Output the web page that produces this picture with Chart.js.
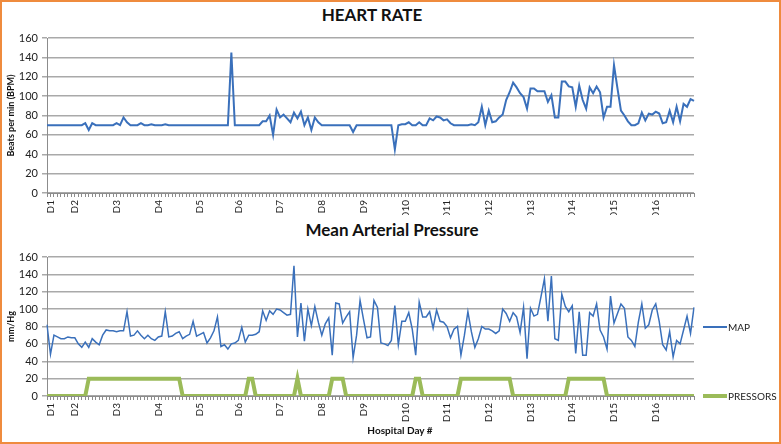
<!DOCTYPE html>
<html>
<head>
<meta charset="utf-8">
<script src="https://cdn.jsdelivr.net/npm/chart.js@4.4.1/dist/chart.umd.min.js"></script>
<style>
    body { margin: 0; background: #fff; }
    #page { position: relative; width: 781px; height: 444px; overflow: hidden; font-family: Lato, 'Open Sans', sans-serif; color: #111; }
    canvas { position: absolute; left: 0; }
    #hrChart { top: 0; }
    #mapChart { top: 215px; }
    .chart-title { position: absolute; width: 260px; text-align: center; font-weight: bold; font-size: 17px; line-height: 20px; }
    #hr-title { left: 242px; top: 5px; }
    #map-title { left: 262px; top: 220px; }
    #x-title { position: absolute; left: 330px; top: 423px; width: 140px; text-align: center; font-weight: bold; font-size: 10px; line-height: 14px; }
    .legend-line { position: absolute; left: 703px; width: 24px; }
    .legend-text { position: absolute; left: 728px; font-size: 10px; line-height: 12px; color: #222; }
    #frame { position: absolute; left: 0; top: 0; width: 781px; height: 444px; box-sizing: border-box; border: 2px solid #ef8b3e; pointer-events: none; }
</style>
</head>
<body>
<div id="page">
    <div class="chart-title" id="hr-title">HEART RATE</div>
    <canvas id="hrChart" width="781" height="215"></canvas>
    <div class="chart-title" id="map-title">Mean Arterial Pressure</div>
    <canvas id="mapChart" width="781" height="229"></canvas>
    <div class="legend-line" style="top:326px;height:1.5px;background:#3a70bb"></div>
    <div class="legend-text" style="top:321px">MAP</div>
    <div class="legend-line" style="top:394px;height:4px;background:#9bbb59"></div>
    <div class="legend-text" style="top:390px">PRESSORS</div>
    <div id="x-title">Hospital Day #</div>
    <div id="frame"></div>
</div>
<script>
// readings (one every ~2h), day marks by reading index
const dayNames = ['D1', 'D2', 'D3', 'D4', 'D5', 'D6', 'D7', 'D8', 'D9', 'D10', 'D11', 'D12', 'D13', 'D14', 'D15', 'D16'];
const dayStart = [1, 8, 20, 32, 44, 55, 67, 79, 91, 103, 115, 127, 139, 151, 163, 175];

const heartRate = [
    70, 70, 70, 70, 70, 70, 70, 70, 70, 70, 70, 72,
    65, 72, 70, 70, 70, 70, 70, 70, 72, 70, 78, 73,
    70, 70, 70, 72, 70, 70, 71, 70, 70, 70, 71, 70,
    70, 70, 70, 70, 70, 70, 70, 70, 70, 70, 70, 70,
    70, 70, 70, 70, 70, 145, 70, 70, 70, 70, 70, 70,
    70, 70, 74, 74, 80, 60, 86, 78, 81, 77, 73, 83,
    77, 84, 70, 78, 65, 78, 73, 70, 70, 70, 70, 70,
    70, 70, 70, 70, 63, 70, 70, 70, 70, 70, 70, 70,
    70, 70, 70, 70, 45, 70, 71, 71, 73, 70, 70, 73,
    70, 70, 77, 75, 79, 78, 75, 76, 72, 70, 70, 70,
    70, 70, 71, 70, 73, 89, 70, 85, 73, 74, 78, 81,
    96, 104, 114, 109, 103, 99, 87, 108, 108, 105, 105, 105,
    94, 101, 78, 78, 115, 115, 110, 109, 89, 111, 96, 87,
    109, 103, 110, 104, 78, 89, 89, 132, 108, 85, 80, 74,
    70, 70, 72, 83, 75, 82, 81, 84, 82, 72, 73, 85,
    73, 89, 74, 92, 89, 97, 95
];

const meanArterial = [
    82, 48, 70, 68, 66, 66, 68, 67, 67, 60, 56, 62,
    56, 66, 62, 59, 70, 76, 75, 75, 74, 75, 75, 97,
    69, 70, 75, 70, 66, 70, 66, 64, 68, 69, 97, 68,
    69, 72, 74, 66, 69, 71, 86, 69, 71, 73, 61, 67,
    75, 91, 57, 59, 54, 60, 61, 64, 79, 62, 70, 70,
    71, 74, 98, 87, 98, 94, 100, 99, 96, 93, 94, 150,
    68, 107, 63, 100, 81, 103, 85, 70, 83, 90, 47, 107,
    106, 84, 91, 97, 44, 70, 110, 88, 67, 68, 110, 102,
    61, 60, 58, 64, 104, 59, 86, 86, 96, 77, 47, 108,
    91, 91, 97, 78, 99, 86, 85, 80, 67, 77, 80, 47,
    70, 97, 74, 56, 66, 80, 77, 77, 75, 72, 75, 100,
    95, 86, 96, 91, 73, 102, 43, 101, 92, 94, 114, 135,
    86, 138, 66, 64, 117, 103, 97, 104, 49, 97, 47, 47,
    96, 92, 106, 76, 68, 54, 115, 84, 95, 106, 101, 68,
    64, 57, 85, 106, 78, 82, 99, 106, 86, 59, 53, 74,
    45, 64, 60, 76, 92, 72, 102
];

const pressors = [
    0, 0, 0, 0, 0, 0, 0, 0, 0, 0, 0, 0,
    20, 20, 20, 20, 20, 20, 20, 20, 20, 20, 20, 20,
    20, 20, 20, 20, 20, 20, 20, 20, 20, 20, 20, 20,
    20, 20, 20, 0, 0, 0, 0, 0, 0, 0, 0, 0,
    0, 0, 0, 0, 0, 0, 0, 0, 0, 0, 20, 20,
    0, 0, 0, 0, 0, 0, 0, 0, 0, 0, 0, 0,
    20, 0, 0, 0, 0, 0, 0, 0, 0, 0, 20, 20,
    20, 20, 0, 0, 0, 0, 0, 0, 0, 0, 0, 0,
    0, 0, 0, 0, 0, 0, 0, 0, 0, 0, 20, 20,
    0, 0, 0, 0, 0, 0, 0, 0, 0, 0, 0, 20,
    20, 20, 20, 20, 20, 20, 20, 20, 20, 20, 20, 20,
    20, 20, 0, 0, 0, 0, 0, 0, 0, 0, 0, 0,
    0, 0, 0, 0, 0, 0, 20, 20, 20, 20, 20, 20,
    20, 20, 20, 20, 20, 0, 0, 0, 0, 0, 0, 0,
    0, 0, 0, 0, 0, 0, 0, 0, 0, 0, 0, 0,
    0, 0, 0, 0, 0, 0, 0
];

const yTicks = [0, 20, 40, 60, 80, 100, 120, 140, 160];

function buildLabels(count) {
    const labels = new Array(count).fill('');
    dayStart.forEach((idx, k) => { labels[idx] = dayNames[k]; });
    return labels;
}

function buildScales(yTitle, xHeight) {
    return {
        x: {
            grid: { drawOnChartArea: false, color: '#8c8c8c', tickLength: 4 },
            border: { color: '#8c8c8c' },
            ticks: {
                autoSkip: false, minRotation: 90, maxRotation: 90, padding: 3,
                color: '#222', font: { family: 'Lato', size: 10 }
            },
            afterFit: (scale) => { scale.height = xHeight; }
        },
        y: {
            min: yTicks[0],
            max: yTicks[yTicks.length - 1],
            afterBuildTicks: (scale) => { scale.ticks = yTicks.map(v => ({ value: v })); },
            grid: { color: '#a9a9a9', lineWidth: 1.5, tickLength: 5 },
            border: { color: '#8c8c8c' },
            ticks: { padding: 4, color: '#222', font: { family: 'Lato', size: 11 } },
            title: {
                display: true, text: yTitle, color: '#111',
                font: { family: 'Lato', size: 9, weight: 'bold' },
                padding: { top: 6, bottom: 0 }
            },
            afterFit: (scale) => { scale.width = 47; }
        }
    };
}

function baseOptions(yTitle, topPad, xHeight) {
    return {
        responsive: false,
        animation: false,
        layout: { padding: { left: 0, right: 87, top: topPad, bottom: 0 } },
        plugins: { legend: { display: false }, title: { display: false }, tooltip: { enabled: false } },
        elements: { point: { radius: 0 }, line: { tension: 0 } },
        scales: buildScales(yTitle, xHeight)
    };
}

function renderHeartRate() {
    const ctx = document.getElementById('hrChart').getContext('2d');
    new Chart(ctx, {
        type: 'line',
        data: {
            labels: buildLabels(heartRate.length),
            datasets: [{ label: 'HR', data: heartRate, borderColor: '#3a70bb', borderWidth: 2 }]
        },
        options: baseOptions('Beats per min (BPM)', 38, 22)
    });
}

function renderPressure() {
    const ctx = document.getElementById('mapChart').getContext('2d');
    new Chart(ctx, {
        type: 'line',
        data: {
            labels: buildLabels(meanArterial.length),
            datasets: [
                { label: 'MAP', data: meanArterial, borderColor: '#3a70bb', borderWidth: 1.5 },
                { label: 'PRESSORS', data: pressors, borderColor: '#9bbb59', borderWidth: 4 }
            ]
        },
        options: baseOptions('mm/Hg', 42, 48)
    });
}

renderHeartRate();
renderPressure();
</script>
</body>
</html>
